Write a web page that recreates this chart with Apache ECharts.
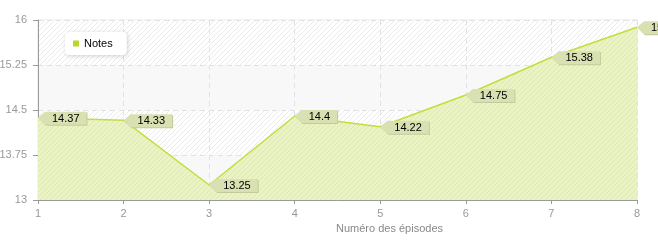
<!DOCTYPE html>
<html><head><meta charset="utf-8">
<script src="https://cdn.jsdelivr.net/npm/echarts@6/dist/echarts.min.js"></script>
<style>html,body{margin:0;padding:0;background:#fff}#c{width:658px;height:240px}</style>
</head><body><div id="c"></div>
<script>
const episodes = ['1','2','3','4','5','6','7','8'];
const notes = [14.37, 14.33, 13.25, 14.4, 14.22, 14.75, 15.38, 15.88];
const seriesName = 'Notes';
const xAxisName = 'Numéro des épisodes';

function hatch(base, line, size) {
  const c = document.createElement('canvas');
  c.width = size; c.height = size;
  const g = c.getContext('2d');
  g.fillStyle = base; g.fillRect(0, 0, size, size);
  g.strokeStyle = line; g.lineWidth = 1;
  g.beginPath();
  for (let k = -size; k <= size * 2; k += size) {
    g.moveTo(k, size); g.lineTo(k + size, 0);
  }
  g.stroke();
  return { image: c, repeat: 'repeat' };
}
const bgHatch = hatch('#ffffff', '#ebebeb', 5);
const bgPlain = '#f8f8f8';
const areaHatch = hatch('#eaf3c4', '#dde8b0', 5);

const measureCtx = document.createElement('canvas').getContext('2d');
const labelFont = '11px "Liberation Sans", Arial, sans-serif';
measureCtx.font = labelFont;

const chart = echarts.init(document.getElementById('c'), null, {renderer: 'canvas'});
chart.setOption({
  animation: false,
  grid: {left: 38, right: 21, top: 20, bottom: 40, show: true, borderColor: '#e6e6e6', borderWidth: 1,
         backgroundColor: 'transparent', containLabel: false, outerBoundsMode: 'none'},
  legend: {
    left: 65, top: 32, data: [seriesName], icon: 'rect', itemWidth: 6, itemHeight: 6, itemGap: 6,
    backgroundColor: '#fff', borderRadius: 4, padding: [6, 14, 6, 8],
    shadowBlur: 4, shadowColor: 'rgba(0,0,0,0.18)', shadowOffsetX: 1, shadowOffsetY: 1,
    textStyle: {fontFamily: 'Liberation Sans', fontSize: 11, color: '#000'}
  },
  xAxis: {
    type: 'category', data: episodes, boundaryGap: false,
    name: xAxisName, nameLocation: 'middle', nameGap: 22,
    nameTextStyle: {fontFamily: 'Liberation Sans', fontSize: 11, color: '#888', padding: [0, 0, 0, 104]},
    axisLine: {lineStyle: {color: '#999'}},
    axisTick: {show: true, alignWithLabel: true, length: 4, lineStyle: {color: '#999'}},
    axisLabel: {fontFamily: 'Liberation Sans', fontSize: 11, color: '#999', margin: 8},
    splitLine: {show: true, lineStyle: {color: '#e2e2e2', type: [5, 4]}}
  },
  yAxis: {
    type: 'value', min: 13, max: 16, interval: 0.75,
    axisLine: {show: true, lineStyle: {color: '#999'}},
    axisTick: {show: true, length: 5, lineStyle: {color: '#999'}},
    axisLabel: {fontFamily: 'Liberation Sans', fontSize: 11, color: '#999', margin: 11},
    splitLine: {show: true, lineStyle: {color: '#e2e2e2', type: [5, 4]}},
    splitArea: {show: true, areaStyle: {color: [bgPlain, bgHatch]}}
  },
  series: [
    {
      name: seriesName, type: 'line', data: notes, symbol: 'none',
      itemStyle: {color: '#b8d62c'},
      lineStyle: {color: '#c3de3c', width: 1.5},
      areaStyle: {color: areaHatch, opacity: 1},
      z: 2
    },
    {
      type: 'custom', clip: false, z: 5, silent: true,
      data: notes.map((v, i) => [i, v]),
      renderItem: function (params, api) {
        const p = api.coord([api.value(0), api.value(1)]);
        const txt = String(api.value(1));
        const tw = measureCtx.measureText(txt).width;
        const x0 = p[0] + 7, w = tw + 14, h = 13;
        const top = p[1] - 6, bot = top + h;
        const pts = [[p[0], p[1]], [x0, top], [x0 + w, top], [x0 + w, bot], [x0, bot]];
        const sh = pts.map(q => [q[0] + 1, q[1] + 1]);
        return {
          type: 'group',
          children: [
            {type: 'polygon', shape: {points: sh}, style: {fill: '#c3cb9c'}},
            {type: 'polygon', shape: {points: pts}, style: {fill: '#d9e1b2'}},
            {type: 'text', style: {text: txt, x: x0 + 7, y: top + h / 2 + 0.5, font: labelFont, fill: '#000', textVerticalAlign: 'middle', verticalAlign: 'middle'}}
          ]
        };
      }
    }
  ]
});
</script></body></html>
